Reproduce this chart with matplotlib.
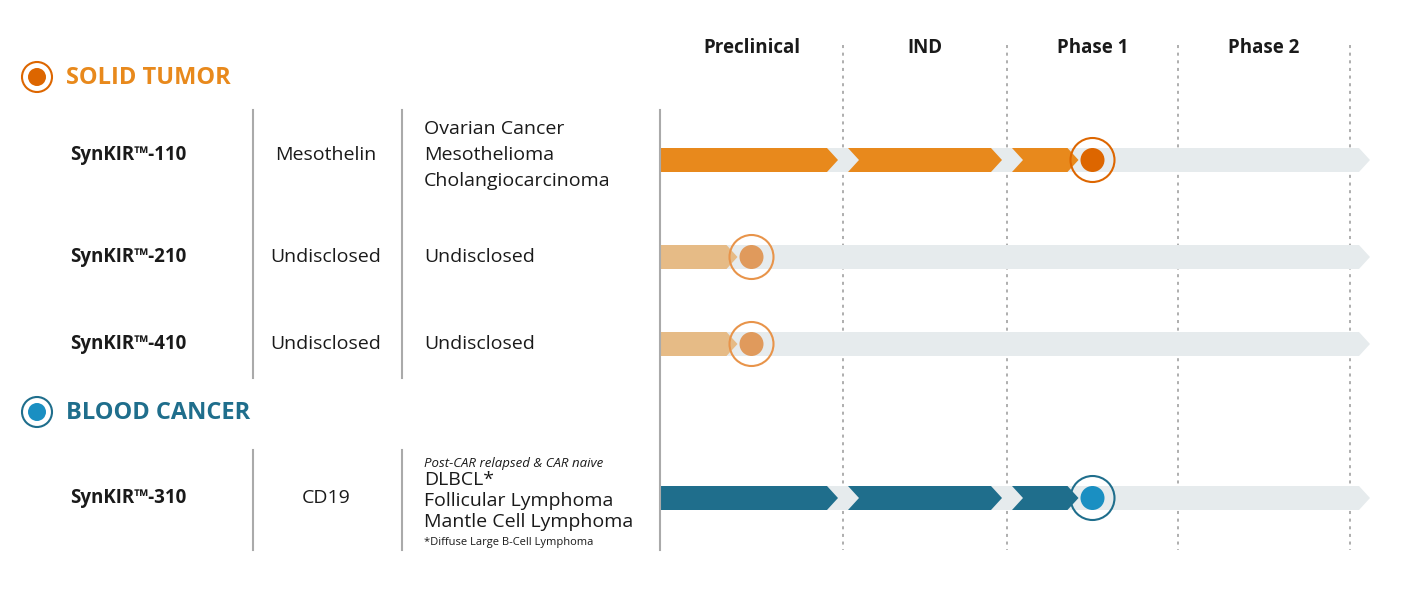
import matplotlib.pyplot as plt
from matplotlib.patches import Polygon, Circle

# pipeline data
phases = ["Preclinical", "IND", "Phase 1", "Phase 2"]
programs = ["SynKIR™-110", "SynKIR™-210", "SynKIR™-410", "SynKIR™-310"]
targets = ["Mesothelin", "Undisclosed", "Undisclosed", "CD19"]
indications = [
    ["Ovarian Cancer", "Mesothelioma", "Cholangiocarcinoma"],
    ["Undisclosed"],
    ["Undisclosed"],
    ["DLBCL*", "Follicular Lymphoma", "Mantle Cell Lymphoma"],
]
progress = [2.5, 0.5, 0.5, 2.5]  # in phase units
group = ["solid", "solid", "solid", "blood"]

# layout (pixel space)
phase_edges = [660, 843, 1007, 1178, 1350]
row_y = [155, 257, 344, 498]
ind_y = [[129, 155, 181], [257], [344], [480, 501, 522]]
track_end = 1370
bar_h = 24
tip = 11

palette = {
    "solid": dict(bar="#E8891C", dot="#DD6600", ring="#DD6600"),
    "solid_light": dict(bar="#E6BB86", dot="#E09A5C", ring="#E8944A"),
    "blood": dict(bar="#1F6E8C", dot="#1A8FC2", ring="#1F6E8C"),
}
grey = "#E6EBED"

fig = plt.figure(figsize=(14.2, 5.9), dpi=100)
ax = fig.add_axes([0, 0, 1, 1])
ax.set_xlim(0, 1420)
ax.set_ylim(590, 0)
ax.axis("off")

FONT = "Open Sans"
TXT = "#1a1a1a"


def chevron(x0, x1, y, color, notch, z=2):
    h = bar_h / 2
    pts = [(x0, y - h), (x1 - tip, y - h), (x1, y), (x1 - tip, y + h), (x0, y + h)]
    if notch:
        pts.append((x0 + tip, y))
    ax.add_patch(Polygon(pts, closed=True, fc=color, ec="none", zorder=z))


def phase_x(p):
    i = min(int(p), len(phase_edges) - 2)
    return phase_edges[i] + (p - i) * (phase_edges[i + 1] - phase_edges[i])


# phase headers and dashed separators
for i, ph in enumerate(phases):
    ax.text((phase_edges[i] + phase_edges[i + 1]) / 2, 48, ph, ha="center", va="center",
            fontsize=13.5, fontweight="bold", family=FONT, color=TXT)
for x in phase_edges[1:]:
    ax.plot([x, x], [45, 550], ls=(0, (2, 3)), color="#999999", lw=1.1, zorder=1)
ax.plot([660, 660], [110, 550], color="#aaaaaa", lw=1.5, zorder=4)

# category headers
for y, label, key in [(77, "SOLID TUMOR", "solid"), (412, "BLOOD CANCER", "blood")]:
    c = palette[key]
    ax.add_patch(Circle((37, y), 15, fc="white", ec=c["ring"], lw=1.5))
    ax.add_patch(Circle((37, y), 9, fc=c["dot"], ec="none"))
    ax.text(66, y + 1, label, ha="left", va="center", fontsize=17, fontweight="bold",
            family=FONT, color="#E8891C" if key == "solid" else "#1F6E8C")

# column separators
for x in [253, 402]:
    ax.plot([x, x], [110, 378], color="#aaaaaa", lw=1.5)
    ax.plot([x, x], [450, 550], color="#aaaaaa", lw=1.5)

for k, y in enumerate(row_y):
    y_bar = 160 if k == 0 else y
    ax.text(128, y, programs[k], ha="center", va="center", fontsize=13.5, fontweight="bold",
            family=FONT, color=TXT)
    ax.text(326, y, targets[k], ha="center", va="center", fontsize=14, family=FONT, color=TXT)
    for t, ty in zip(indications[k], ind_y[k]):
        ax.text(424, ty, t, ha="left", va="center", fontsize=14, family=FONT, color=TXT)

    key = group[k]
    if key == "solid" and progress[k] < 1:
        key = "solid_light"
    c = palette[key]
    # grey track
    chevron(660, track_end, y_bar, grey, False, z=1)
    # progress segments
    end = phase_x(progress[k])
    start = 660
    first = True
    for e in phase_edges[1:]:
        if start >= end:
            break
        seg_end = min(e - 5, end - 14)
        chevron(start, seg_end, y_bar, c["bar"], not first)
        first = False
        start = e + 5
    ax.add_patch(Circle((end, y_bar), 22, fc="none", ec=c["ring"], lw=1.5, zorder=3))
    ax.add_patch(Circle((end, y_bar), 12, fc=c["dot"], ec="none", zorder=4))

# blood cancer notes
ax.text(424, 463, "Post-CAR relapsed & CAR naive", ha="left", va="center", fontsize=9.5,
        style="italic", family=FONT, color=TXT)
ax.text(424, 542, "*Diffuse Large B-Cell Lymphoma", ha="left", va="center", fontsize=8,
        family=FONT, color=TXT)

fig.savefig("out.png", dpi=100)
